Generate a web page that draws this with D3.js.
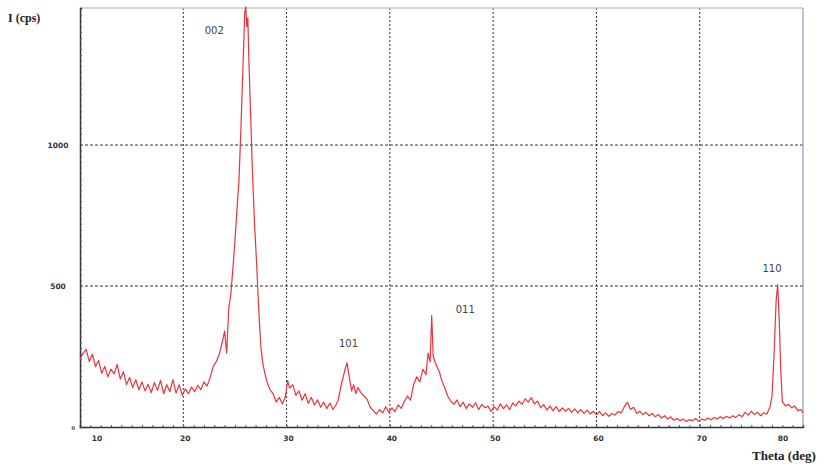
<!DOCTYPE html>
<html><head><meta charset="utf-8">
<script src="https://cdn.jsdelivr.net/npm/d3@7"></script>
<style>body{margin:0;background:#fff;}svg{display:block;}</style>
</head><body>
<script>
const theta = [10.0,10.3,10.6,10.9,11.2,11.5,11.8,12.1,12.4,12.7,13.0,13.3,13.6,13.9,14.2,14.5,14.8,15.1,15.4,15.7,16.0,16.3,16.6,16.9,17.2,17.5,17.8,18.1,18.4,18.7,19.0,19.3,19.6,19.9,20.2,20.5,20.8,21.1,21.4,21.7,22.0,22.3,22.6,22.9,23.2,23.5,23.8,24.0,24.2,24.4,24.6,24.8,25.0,25.2,25.4,25.6,25.8,25.95,26.05,26.15,26.25,26.35,26.5,26.7,26.9,27.1,27.3,27.5,27.7,27.9,28.1,28.4,28.7,29.0,29.3,29.6,29.9,30.1,30.3,30.6,30.9,31.2,31.5,31.8,32.1,32.4,32.7,33.0,33.3,33.6,33.9,34.2,34.5,34.8,35.0,35.3,35.6,35.85,36.1,36.3,36.5,36.7,36.9,37.2,37.5,37.8,38.1,38.4,38.7,39.0,39.3,39.6,39.9,40.2,40.5,40.8,41.1,41.4,41.7,42.0,42.3,42.6,42.9,43.2,43.5,43.7,43.9,44.05,44.2,44.4,44.6,44.8,45.0,45.3,45.6,45.9,46.2,46.5,46.8,47.1,47.4,47.7,48.0,48.3,48.6,48.9,49.2,49.5,49.8,50.1,50.4,50.7,51.0,51.3,51.6,51.9,52.2,52.5,52.8,53.1,53.4,53.7,54.0,54.3,54.6,54.9,55.2,55.5,55.8,56.1,56.4,56.7,57.0,57.3,57.6,57.9,58.2,58.5,58.8,59.1,59.4,59.7,60.0,60.3,60.6,60.9,61.2,61.5,61.8,62.1,62.4,62.7,63.0,63.3,63.6,63.9,64.2,64.5,64.8,65.1,65.4,65.7,66.0,66.3,66.6,66.9,67.2,67.5,67.8,68.1,68.4,68.7,69.0,69.3,69.6,69.9,70.2,70.5,70.8,71.1,71.4,71.7,72.0,72.3,72.6,72.9,73.2,73.5,73.8,74.1,74.4,74.7,75.0,75.3,75.6,75.9,76.2,76.5,76.8,77.0,77.2,77.4,77.55,77.7,77.85,78.0,78.3,78.6,78.9,79.2,79.5,79.8,80.0];
const intensity = [240,262,275,232,258,214,236,190,215,178,205,188,222,170,196,150,176,140,168,132,160,128,152,122,158,130,165,118,150,125,168,120,150,112,135,118,142,125,148,132,160,145,175,215,232,260,305,340,262,420,470,560,660,770,880,1080,1300,1470,1490,1420,1450,1300,1130,900,720,580,420,290,225,190,160,132,118,88,105,82,110,165,138,150,112,128,95,118,84,105,78,96,70,88,66,85,62,80,95,150,195,228,170,128,150,118,140,122,110,98,70,58,46,62,50,72,52,68,55,78,66,90,110,95,150,178,160,205,185,262,230,395,250,228,210,195,168,140,110,92,80,96,72,88,66,82,70,86,62,80,68,74,55,72,60,82,65,78,62,85,75,92,80,100,88,104,82,92,68,80,60,74,58,72,55,68,56,66,52,64,50,62,48,60,46,56,44,55,40,50,38,48,42,55,50,72,88,62,70,48,56,44,52,40,48,36,44,32,40,28,36,24,30,22,28,20,26,22,30,20,28,24,32,26,34,28,36,30,38,32,40,34,44,36,52,42,56,44,52,40,50,46,70,110,260,450,505,380,200,90,75,80,68,74,58,62,50];
const xTicks = [10,20,30,40,50,60,70,80];
const yTicks = [500,1000];
const peakLabels = ["002","101","011","110"];
const peakLabelTheta = [23.0,36.0,47.3,77.0];
const peakLabelY = [1393,283,403,548];

const W=835,H=464;
const svg=d3.select("body").append("svg").attr("width",W).attr("height",H);
const L=80,R=803,T=8,B=427;
const x=d3.scaleLinear().domain([10,80]).range([L,R]);
const y=d3.scaleLinear().domain([0,1486]).range([B,T]);

// grid
svg.append("g").selectAll("line").data(xTicks.filter(d=>d>10&&d<80)).join("line")
  .attr("x1",d=>x(d)).attr("x2",d=>x(d)).attr("y1",T).attr("y2",B)
  .attr("stroke","#333").attr("stroke-width",1).attr("stroke-dasharray","2,2");
svg.append("g").selectAll("line").data(yTicks).join("line")
  .attr("x1",L).attr("x2",R).attr("y1",d=>y(d)).attr("y2",d=>y(d))
  .attr("stroke","#333").attr("stroke-width",1).attr("stroke-dasharray","3,2");

// borders
svg.append("line").attr("x1",L).attr("x2",R).attr("y1",T).attr("y2",T).attr("stroke","#c8c8c8").attr("stroke-width",1.5);
svg.append("line").attr("x1",R).attr("x2",R).attr("y1",T).attr("y2",B).attr("stroke","#8a9cc8").attr("stroke-width",1.2);

// axes with minor ticks
const gx=svg.append("g").attr("transform",`translate(0,${B})`)
  .call(d3.axisBottom(x).ticks(70).tickSize(-2).tickFormat(""));
gx.select(".domain").attr("stroke","#333").attr("stroke-width",1.5);
gx.selectAll(".tick line").attr("stroke","#555");
const gy=svg.append("g").attr("transform",`translate(${L},0)`)
  .call(d3.axisLeft(y).ticks(60).tickSize(-2).tickFormat(""));
gy.select(".domain").attr("stroke","#333").attr("stroke-width",1.5);
gy.selectAll(".tick line").attr("stroke","#555");

// tick labels
const lab=svg.append("g").attr("font-family","DejaVu Sans, sans-serif").attr("font-size",7.5).attr("font-weight","bold").attr("fill","#333");
lab.selectAll("text.xt").data(xTicks).join("text").attr("class","xt")
  .attr("x",d=>d===10?x(d)+17:(d===80?x(d)-20:x(d)+2)).attr("y",B+14).attr("text-anchor","middle").text(d=>d);
lab.selectAll("text.yt").data(yTicks).join("text").attr("class","yt")
  .attr("x",L-22).attr("y",d=>y(d)+3).attr("text-anchor","middle").text(d=>d);
lab.append("text").attr("x",L-5).attr("y",B+3).attr("font-size",5).attr("text-anchor","end").text("0");

// axis titles
svg.append("text").attr("x",8).attr("y",22).attr("font-family","Liberation Serif, serif").attr("font-weight","bold").attr("font-size",12).attr("fill","#222").text("I (cps)");
svg.append("text").attr("x",752).attr("y",460).attr("font-family","Liberation Serif, serif").attr("font-weight","bold").attr("font-size",13).attr("fill","#222").text("Theta (deg)");

// curve
const line=d3.line().x((d,i)=>x(theta[i])).y((d,i)=>y(intensity[i]));
svg.append("path").datum(intensity).attr("d",line).attr("fill","none")
  .attr("stroke","#e8343a").attr("stroke-width",1.2).attr("stroke-linejoin","round");

// peak labels
svg.append("g").selectAll("text").data(peakLabels).join("text")
  .attr("x",(d,i)=>x(peakLabelTheta[i])).attr("y",(d,i)=>y(peakLabelY[i]))
  .attr("text-anchor","middle").attr("font-family","DejaVu Sans, sans-serif").attr("font-size",10).attr("fill","#444")
  .text(d=>d);
</script>
</body></html>
